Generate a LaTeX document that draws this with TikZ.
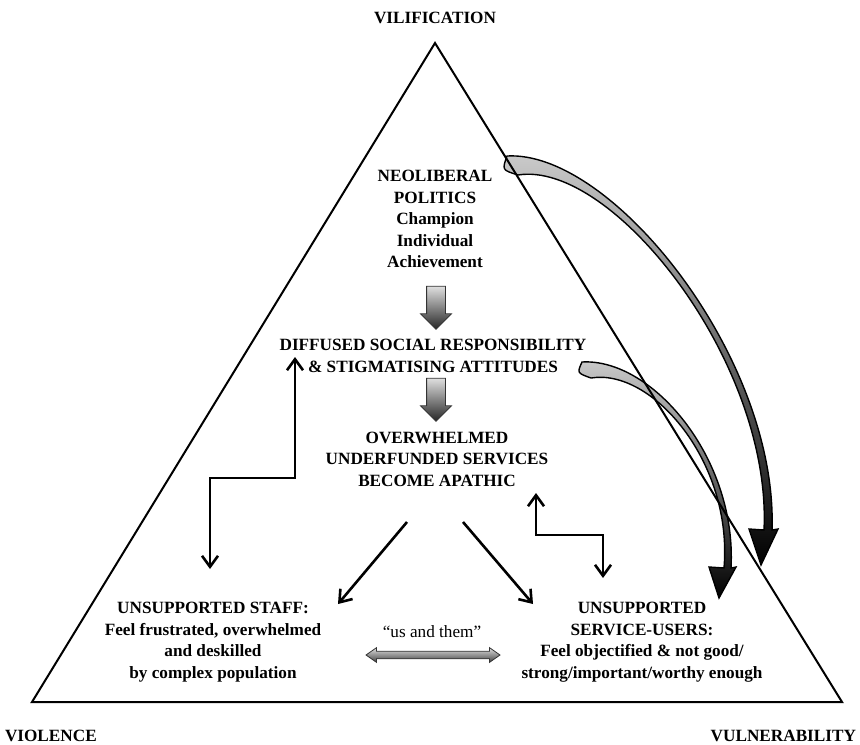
\documentclass[tikz,border=0pt]{standalone}
\usepackage{fontspec}
\setmainfont{Liberation Serif}
\usetikzlibrary{arrows.meta,shapes.arrows}

\begin{document}
\begin{tikzpicture}[x=0.5pt,y=-0.5pt,line width=1pt,
    >={Straight Barb[length=5.5pt,width=8pt]},
    title/.style={font=\bfseries\fontsize{8.6}{10.8}\selectfont,align=center,inner sep=1pt},
    corner/.style={font=\bfseries\fontsize{8.6}{10}\selectfont,inner sep=1pt},
    link/.style={line width=1.3pt},
    blockarrow/.style={single arrow,draw=black!80,line width=0.4pt,shape border rotate=270,
      minimum height=21.5pt,inner sep=4.5pt,single arrow head extend=3pt,
      top color=gray!25,bottom color=black!85},
    usarrow/.style={double arrow,draw=black!80,line width=0.4pt,minimum height=67pt,
      inner sep=1.7pt,double arrow head extend=1.8pt,double arrow tip angle=70,
      top color=gray!25,bottom color=black!75},
    swoop/.style={top color=gray!40,bottom color=black,draw=black,line width=0.7pt}]

\useasboundingbox (0,0) rectangle (860,744);

% curved arrows (behind the triangle)
\shadedraw[swoop] (507,156) .. controls (612,150) and (778,358) .. (772,530)
  -- (778,529) -- (761,565) -- (749,529) -- (764,530)
  .. controls (772,362) and (612,160) .. (518,175) .. controls (502,170) .. cycle;
\shadedraw[swoop] (582,362) .. controls (652,358) and (737,458) .. (731,568)
  -- (736,567) -- (719,598) -- (709,567) -- (724,568)
  .. controls (733,462) and (652,368) .. (591,378) .. controls (577,373) .. cycle;

% the triangle
\coordinate (apex) at (435,43);
\coordinate (br) at (842,702);
\coordinate (bl) at (32,702);
\draw (apex) -- (br) -- (bl) -- cycle;

\node[corner] (vil) at (435,18) {VILIFICATION};
\node[corner,anchor=west] (vio) at (2,736) {VIOLENCE};
\node[corner,anchor=east] (vul) at (859,736) {VULNERABILITY};

\node[title] (neo) at (435,219) {NEOLIBERAL\\POLITICS\\Champion\\Individual\\Achievement};
\node[title] (dif) at (433,356) {DIFFUSED SOCIAL RESPONSIBILITY\\\& STIGMATISING ATTITUDES};
\node[title] (srv) at (437,459) {OVERWHELMED\\UNDERFUNDED SERVICES\\BECOME APATHIC};
\node[title] (staff) at (213,642) {UNSUPPORTED STAFF:\\Feel frustrated, overwhelmed\\and deskilled\\by complex population};
\node[title] (users) at (642,642) {UNSUPPORTED\\SERVICE-USERS:\\Feel objectified \& not good/\\strong/important/worthy enough};
\node[font=\fontsize{8.6}{10}\selectfont] (us) at (432,632) {``us and them''};

\node[blockarrow] (a1) at (436,303) {};
\node[blockarrow] (a2) at (436,395) {};
\node[usarrow] (a3) at (433,655) {};

% free ends of the line arrows
\coordinate (difl) at (295,357);
\coordinate (stf) at (210,569);
\coordinate (srvr) at (536,493);
\coordinate (usr) at (603,578);
\coordinate (srvl) at (407,522);
\coordinate (srvm) at (463,522);
\coordinate (stfr) at (338,604);
\coordinate (usl) at (533,604);

\draw[link,<->] (difl) -- ++(0,121) -| (stf);
\draw[link,<->] (srvr) -- ++(0,42) -| (usr);
\draw[link,->] (srvl) -- (stfr);
\draw[link,->] (srvm) -- (usl);

\end{tikzpicture}
\end{document}
